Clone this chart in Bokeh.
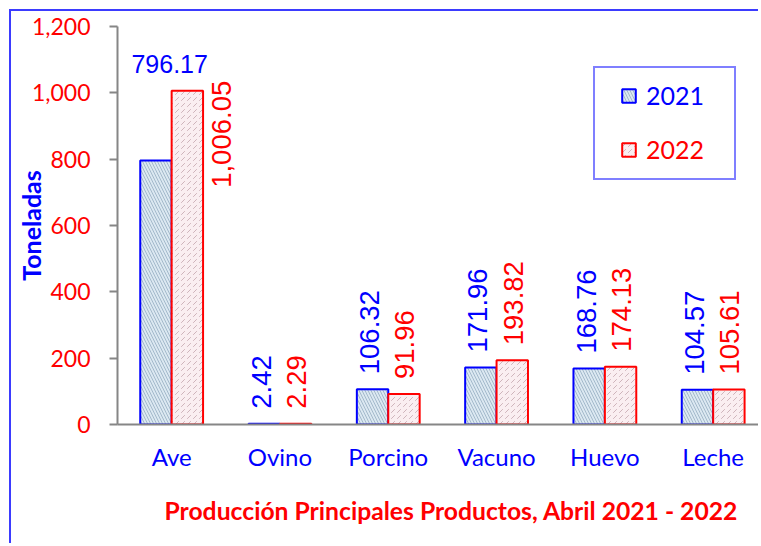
import math
import numpy as np
from bokeh.plotting import figure
from bokeh.models import (Range1d, FixedTicker, Legend, LegendItem, Title,
                          ColumnDataSource, NumeralTickFormatter)
from bokeh.core.properties import value
from bokeh.embed import file_html
from bokeh.resources import INLINE

# ---------------- data ----------------
categories = ["Ave", "Ovino", "Porcino", "Vacuno", "Huevo", "Leche"]
values_2021 = [796.17, 2.42, 106.32, 171.96, 168.76, 104.57]
values_2022 = [1006.05, 2.29, 91.96, 193.82, 174.13, 105.61]
series_names = ["2021", "2022"]
y_ticks = [0, 200, 400, 600, 800, 1000, 1200]
title_text = "Producción Principales Productos, Abril 2021 - 2022"
y_label = "Toneladas"

# ---------------- style ----------------
BLUE = "#0000ff"
RED = "#ff0000"
GRAY = "#868686"
BAR_W = 0.29
UI_FONT = "Lato"
LABEL_FONT = "Liberation Sans"

idx = np.arange(len(categories)) + 0.5
x21 = idx - BAR_W / 2
x22 = idx + BAR_W / 2

p = figure(width=749, height=534,
           x_range=Range1d(0, 5.937), y_range=Range1d(0, 1200),
           output_backend="svg", toolbar_location=None,
           min_border_left=106, min_border_right=0,
           min_border_top=15, min_border_bottom=121)
p.styles = {"margin-left": "9px", "margin-top": "9px",
            "border-left": "2px solid #3b3bff", "border-top": "2px solid #3b3bff"}
p.outline_line_color = None
p.xgrid.visible = False
p.ygrid.visible = False
p.background_fill_color = "white"
p.border_fill_color = "white"

src21 = ColumnDataSource(dict(x=x21, top=values_2021, cat=categories))
src22 = ColumnDataSource(dict(x=x22, top=values_2022, cat=categories))

r21 = p.vbar(x="x", top="top", width=BAR_W, source=src21,
             fill_color="#dbe8f1", line_color=BLUE, line_width=2,
             hatch_pattern="\\", hatch_color="#a3b9cb", hatch_scale=6, hatch_weight=1)
r22 = p.vbar(x="x", top="top", width=BAR_W, source=src22,
             fill_color="#faeef1", line_color=RED, line_width=2,
             hatch_pattern=",", hatch_color="#cfb3ba", hatch_scale=6, hatch_weight=1)

# ---------------- axes ----------------
xa = p.xaxis[0]
xa.ticker = FixedTicker(ticks=list(idx))
xa.major_label_overrides = {float(t): c for t, c in zip(idx, categories)}
xa.major_tick_line_color = None
xa.minor_tick_line_color = None
xa.axis_line_color = GRAY
xa.axis_line_width = 2
xa.major_label_text_color = BLUE
xa.major_label_text_font = UI_FONT
xa.major_label_text_font_size = "24px"
xa.major_label_standoff = 11

ya = p.yaxis[0]
ya.ticker = FixedTicker(ticks=y_ticks)
ya.formatter = NumeralTickFormatter(format="0,0")
ya.major_tick_in = 0
ya.major_tick_out = 8
ya.major_tick_line_color = GRAY
ya.major_tick_line_width = 2
ya.minor_tick_line_color = None
ya.axis_line_color = GRAY
ya.axis_line_width = 2
ya.major_label_text_color = RED
ya.major_label_text_font = UI_FONT
ya.major_label_text_font_size = "23px"
ya.major_label_standoff = 19
ya.axis_label = y_label
ya.axis_label_text_color = BLUE
ya.axis_label_text_font = UI_FONT
ya.axis_label_text_font_style = "bold"
ya.axis_label_text_font_size = "25px"
ya.axis_label_standoff = -17

# ---------------- data labels ----------------
fmt = lambda v: f"{v:,.2f}"
lab21 = ColumnDataSource(dict(x=x21[1:], y=values_2021[1:], t=[fmt(v) for v in values_2021[1:]]))
lab22 = ColumnDataSource(dict(x=x22[1:], y=values_2022[1:], t=[fmt(v) for v in values_2022[1:]]))
common = dict(text="t", angle=math.pi / 2, text_align="left", text_baseline="middle",
              text_font=value(LABEL_FONT), text_font_size="27.5px")
p.text(x="x", y="y", source=lab21, text_color=BLUE, x_offset=-3, y_offset=-15, **common)
p.text(x="x", y="y", source=lab22, text_color=RED, x_offset=1, y_offset=-15, **common)

first21 = ColumnDataSource(dict(x=[idx[0]], y=[values_2021[0]], t=[fmt(values_2021[0])]))
first22 = ColumnDataSource(dict(x=[x22[0]], y=[values_2022[0]], t=[fmt(values_2022[0])]))
p.text(x="x", y="y", text="t", source=first21, text_color=BLUE, text_align="center",
       text_baseline="alphabetic", x_offset=-2, y_offset=-96,
       text_font=value(LABEL_FONT), text_font_size="25px")
p.text(x="x", y="y", source=first22, text_color=RED, x_offset=34, y_offset=97, **common)

# ---------------- legend ----------------
dummy = p.scatter(x=[], y=[], fill_alpha=0, line_alpha=0)
box = Legend(items=[LegendItem(label=" ", renderers=[dummy])], location=(476, 244),
             padding=0, spacing=0, margin=0, glyph_width=99, glyph_height=110,
             label_standoff=0, label_width=40, label_text_font_size="4px",
             border_line_color=BLUE, border_line_width=2,
             background_fill_color="white", background_fill_alpha=1)
p.add_layout(box, "center")

def item_legend(label, rend, color, loc):
    lg = Legend(items=[LegendItem(label=label, renderers=[rend])], location=loc,
                padding=0, spacing=0, margin=0, glyph_width=17, glyph_height=17,
                label_standoff=9, label_text_color=color, label_text_font=UI_FONT,
                label_text_font_size="25px", border_line_color=None,
                background_fill_alpha=0)
    p.add_layout(lg, "center")

item_legend(series_names[0], r21, BLUE, (503, 314))
item_legend(series_names[1], r22, RED, (503, 260))

# ---------------- title ----------------
t = Title(text=title_text, align="left", offset=47, text_color=RED,
          text_font=UI_FONT, text_font_style="bold", text_font_size="24.7px",
          vertical_align="bottom", standoff=40)
p.add_layout(t, "below")

open("out.html", "w").write(file_html(p, INLINE))
